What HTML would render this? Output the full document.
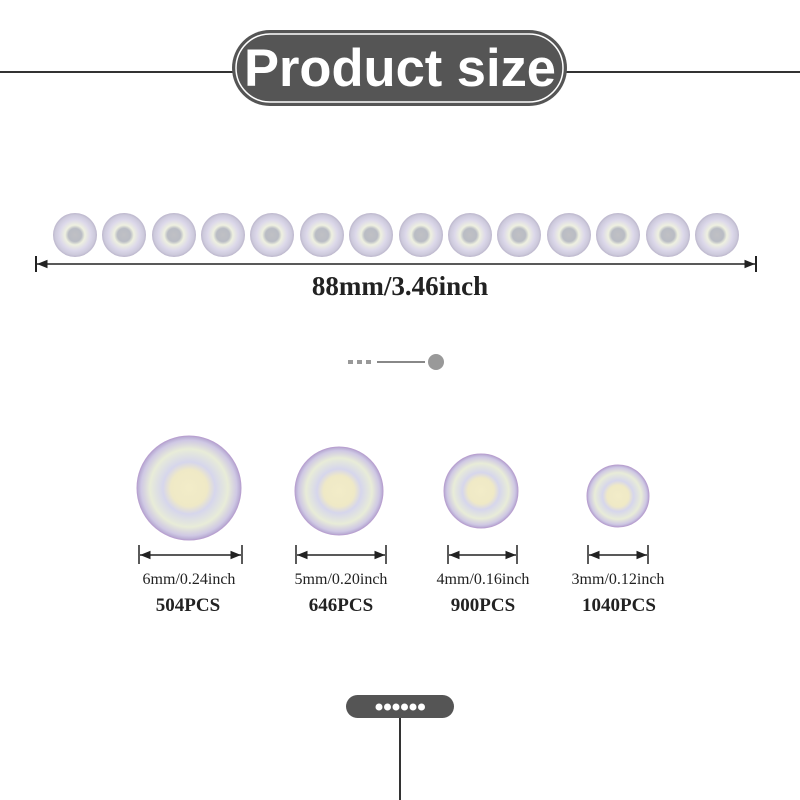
<!DOCTYPE html>
<html><head><meta charset="utf-8"><style>
body{margin:0;background:#fff;}
svg{display:block;}
</style></head><body>
<svg width="800" height="800" viewBox="0 0 800 800" xmlns="http://www.w3.org/2000/svg">
<defs>
<radialGradient id="g" cx="50%" cy="50%" r="50%">
<stop offset="0" stop-color="#c0c0c4"/>
<stop offset="0.3" stop-color="#b9bcc4"/>
<stop offset="0.45" stop-color="#eef0e0"/>
<stop offset="0.7" stop-color="#dcd8ea"/>
<stop offset="0.9" stop-color="#cdcadc"/>
<stop offset="1" stop-color="#bcb6cc"/>
</radialGradient>
<radialGradient id="G" cx="50%" cy="50%" r="50%">
<stop offset="0" stop-color="#f2ecc8"/>
<stop offset="0.35" stop-color="#efe9c6"/>
<stop offset="0.5" stop-color="#d6d6ec"/>
<stop offset="0.75" stop-color="#e8ecd8"/>
<stop offset="0.92" stop-color="#cfc8e4"/>
<stop offset="1" stop-color="#b4a6d0"/>
</radialGradient>
<marker id="a" viewBox="0 0 10 10" refX="10" refY="5" markerWidth="7" markerHeight="7" orient="auto-start-reverse"><path d="M0,1 L10,5 L0,9 Z" fill="#222"/></marker>
</defs>
<line x1="0" y1="72" x2="800" y2="72" stroke="#333" stroke-width="2"/>
<rect x="232" y="30" width="335" height="76" rx="38" fill="#555"/>
<rect x="236" y="34" width="327" height="68" rx="34" fill="none" stroke="#fff" stroke-width="1.5"/>
<text x="400" y="86" text-anchor="middle" font-family="Liberation Sans,sans-serif" font-weight="bold" font-size="53" fill="#fff" textLength="312" lengthAdjust="spacingAndGlyphs">Product size</text>

<g>
<circle cx="75" cy="235" r="22" fill="url(#g)"/><circle cx="124" cy="235" r="22" fill="url(#g)"/><circle cx="174" cy="235" r="22" fill="url(#g)"/><circle cx="223" cy="235" r="22" fill="url(#g)"/><circle cx="272" cy="235" r="22" fill="url(#g)"/><circle cx="322" cy="235" r="22" fill="url(#g)"/><circle cx="371" cy="235" r="22" fill="url(#g)"/><circle cx="421" cy="235" r="22" fill="url(#g)"/><circle cx="470" cy="235" r="22" fill="url(#g)"/><circle cx="519" cy="235" r="22" fill="url(#g)"/><circle cx="569" cy="235" r="22" fill="url(#g)"/><circle cx="618" cy="235" r="22" fill="url(#g)"/><circle cx="668" cy="235" r="22" fill="url(#g)"/><circle cx="717" cy="235" r="22" fill="url(#g)"/>
</g>
<line x1="37" y1="264" x2="755" y2="264" stroke="#222" stroke-width="1.5" marker-start="url(#a)" marker-end="url(#a)"/>
<line x1="36" y1="256" x2="36" y2="272" stroke="#222" stroke-width="2"/>
<line x1="756" y1="256" x2="756" y2="272" stroke="#222" stroke-width="2"/>
<text x="400" y="295" text-anchor="middle" font-family="Liberation Serif,serif" font-weight="bold" font-size="27" fill="#222">88mm/3.46inch</text>

<g fill="#999"><rect x="348" y="360" width="5" height="4"/><rect x="357" y="360" width="5" height="4"/><rect x="366" y="360" width="5" height="4"/></g>
<line x1="377" y1="362" x2="425" y2="362" stroke="#888" stroke-width="2"/>
<circle cx="436" cy="362" r="8" fill="#999"/>

<circle cx="189" cy="488" r="52" fill="url(#G)" stroke="#b9a0d0" stroke-width="1"/>
<circle cx="339" cy="491" r="44" fill="url(#G)" stroke="#b9a0d0" stroke-width="1"/>
<circle cx="481" cy="491" r="37" fill="url(#G)" stroke="#b9a0d0" stroke-width="1"/>
<circle cx="618" cy="496" r="31" fill="url(#G)" stroke="#b9a0d0" stroke-width="1"/>

<g stroke="#222" stroke-width="1.5">
<line x1="140" y1="555" x2="241" y2="555" marker-start="url(#a)" marker-end="url(#a)"/>
<line x1="139" y1="545" x2="139" y2="564"/><line x1="242" y1="545" x2="242" y2="564"/>
<line x1="297" y1="555" x2="385" y2="555" marker-start="url(#a)" marker-end="url(#a)"/>
<line x1="296" y1="545" x2="296" y2="564"/><line x1="386" y1="545" x2="386" y2="564"/>
<line x1="449" y1="555" x2="516" y2="555" marker-start="url(#a)" marker-end="url(#a)"/>
<line x1="448" y1="545" x2="448" y2="564"/><line x1="517" y1="545" x2="517" y2="564"/>
<line x1="589" y1="555" x2="647" y2="555" marker-start="url(#a)" marker-end="url(#a)"/>
<line x1="588" y1="545" x2="588" y2="564"/><line x1="648" y1="545" x2="648" y2="564"/>
</g>
<g font-family="Liberation Serif,serif" font-size="16" fill="#222" text-anchor="middle">
<text x="189" y="584">6mm/0.24inch</text><text x="341" y="584">5mm/0.20inch</text><text x="483" y="584">4mm/0.16inch</text><text x="618" y="584">3mm/0.12inch</text>
</g>
<g font-family="Liberation Serif,serif" font-size="19" font-weight="bold" fill="#222" text-anchor="middle">
<text x="188" y="611">504PCS</text><text x="341" y="611">646PCS</text><text x="483" y="611">900PCS</text><text x="619" y="611">1040PCS</text>
</g>

<line x1="400" y1="716" x2="400" y2="800" stroke="#333" stroke-width="2"/>
<rect x="346" y="695" width="108" height="23" rx="11.5" fill="#555"/>
<g fill="#fff"><circle cx="379" cy="707" r="3.5"/><circle cx="387.5" cy="707" r="3.5"/><circle cx="396" cy="707" r="3.5"/><circle cx="404.5" cy="707" r="3.5"/><circle cx="413" cy="707" r="3.5"/><circle cx="421.5" cy="707" r="3.5"/></g>
</svg>
</body></html>
